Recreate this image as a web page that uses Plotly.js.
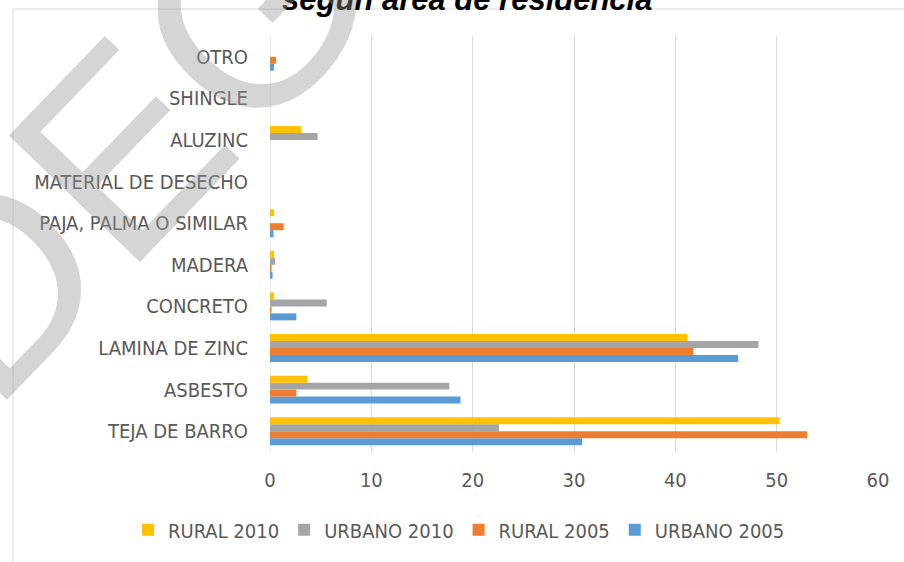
<!DOCTYPE html>
<html><head><meta charset="utf-8">
<script src="https://cdn.plot.ly/plotly-3.0.1.min.js"></script>
<style>html,body{margin:0;padding:0;background:#fff;}#chart{width:904px;height:562px;}</style>
</head><body><div id="chart"></div>
<script>
const categories = ["TEJA DE BARRO","ASBESTO","LAMINA DE ZINC","CONCRETO","MADERA","PAJA, PALMA O SIMILAR","MATERIAL DE DESECHO","ALUZINC","SHINGLE","OTRO"];
const urbano2005 = [30.8, 18.8, 46.2, 2.6, 0.25, 0.35, 0, 0, 0, 0.4];
const rural2005  = [53.0, 2.6, 41.8, 0.15, 0.15, 1.35, 0, 0, 0, 0.6];
const urbano2010 = [22.6, 17.7, 48.2, 5.6, 0.5, 0, 0, 4.7, 0, 0];
const rural2010  = [50.3, 3.7, 41.2, 0.4, 0.4, 0.4, 0, 3.1, 0, 0];
const seriesNames = ["URBANO 2005","RURAL 2005","URBANO 2010","RURAL 2010"];
const colors = ["#5B9BD5","#ED7D31","#A5A5A5","#FFC000"];
const values = [urbano2005, rural2005, urbano2010, rural2010];
const titleText = "según área de residencia";
const watermarkText = "DEG";

const traces = values.map((v,i)=>({
  type:'bar', orientation:'h', y:categories, x:v, name:seriesNames[i],
  marker:{color:colors[i]}, hoverinfo:'none'
}));

const fam = 'DejaVu Sans Condensed, Liberation Sans Narrow, Arial, sans-serif';
const font = {family:fam, size:20, color:'#595959'};
const layout = {
  width:904, height:562,
  margin:{l:270, r:26, t:36, b:110, pad:0, autoexpand:false},
  paper_bgcolor:'#fff', plot_bgcolor:'#fff',
  barmode:'group', bargap:0.33, bargroupgap:0,
  showlegend:true,
  legend:{orientation:'h', traceorder:'reversed', x:-0.2336, xanchor:'left', y:-0.187, yanchor:'middle',
          font:{family:fam, size:20, color:'#595959'}},
  xaxis:{range:[0,60], dtick:10, showgrid:true, gridcolor:'#d9d9d9', gridwidth:1, zeroline:false,
         ticks:'outside', ticklen:10, tickcolor:'rgba(0,0,0,0)', tickfont:font, showline:false, fixedrange:true},
  yaxis:{type:'category', categoryorder:'array', categoryarray:categories, showgrid:false, zeroline:false,
         ticks:'outside', ticklen:17, tickcolor:'rgba(0,0,0,0)', tickfont:font, showline:false},
  shapes:[
    {type:'rect', xref:'paper', yref:'paper', x0:-0.4227, x1:1.2, y0:-0.5, y1:1.0649, line:{color:'#d9d9d9', width:1}, layer:'below'},
    {type:'line', xref:'x', yref:'paper', x0:0, x1:0, y0:0, y1:1, line:{color:'#d9d9d9', width:1}, layer:'below'}
  ],
  annotations:[
    {text:'<b><i>'+titleText+'</i></b>', xref:'paper', yref:'paper', x:0.324, y:1.041, xanchor:'center', yanchor:'bottom', showarrow:false,
     font:{family:'Liberation Sans, Arial, sans-serif', size:31, color:'#000'}},
    {text:watermarkText, xref:'paper', yref:'paper', x:-0.2385, y:0.738, xanchor:'center', yanchor:'middle', showarrow:false, textangle:-46,
     font:{family:'Liberation Sans Narrow, Arial Narrow, sans-serif', size:265, color:'rgba(150,150,150,0.4)'}}
  ]
};
Plotly.newPlot('chart', traces, layout, {displayModeBar:false, staticPlot:true});
</script></body></html>
